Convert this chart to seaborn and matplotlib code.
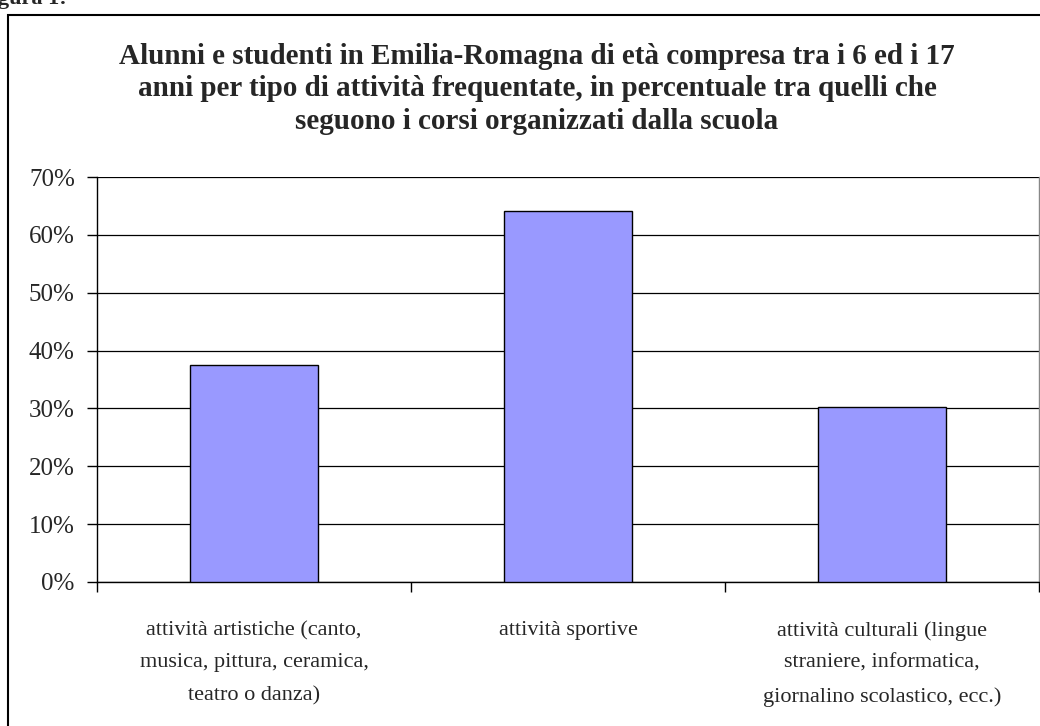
import matplotlib
matplotlib.use("Agg")
import matplotlib.pyplot as plt
import seaborn as sns
import pandas as pd
from matplotlib.patches import Rectangle
from matplotlib.ticker import FixedLocator, PercentFormatter

# --- dati ---
categorie = [
    "attività artistiche (canto,\nmusica, pittura, ceramica,\nteatro o danza)",
    "attività sportive",
    "attività culturali (lingue\nstraniere, informatica,\ngiornalino scolastico, ecc.)",
]
percentuali = [37.5, 64.1, 30.3]
tick_y = [0, 10, 20, 30, 40, 50, 60, 70]

titolo = ("Alunni e studenti in Emilia-Romagna di età compresa tra i 6 ed i 17\n"
          "anni per tipo di attività frequentate, in percentuale tra quelli che\n"
          "seguono i corsi organizzati dalla scuola")

df = pd.DataFrame({"categoria": categorie, "valore": percentuali})

sns.set_theme(style="white")
plt.rcParams["font.family"] = ["Liberation Serif", "DejaVu Serif"]

fig = plt.figure(figsize=(10.4, 7.26), dpi=100)
ax = fig.add_axes([97 / 1040, 1 - 582 / 726, 942 / 1040, (582 - 177) / 726])

sns.barplot(data=df, x="categoria", y="valore", color="#9999FF", saturation=1,
            width=0.41, edgecolor="black", linewidth=1.0, ax=ax, zorder=3)

ax.set_ylim(0, 70)
ax.set_xlim(-0.5, 2.5)
ax.yaxis.set_major_locator(FixedLocator(tick_y))
ax.yaxis.set_major_formatter(PercentFormatter(decimals=0))
ax.grid(axis="y", color="black", linewidth=0.9, zorder=0)
ax.set_axisbelow(True)

# etichette categorie su tick minori, tacche ai confini
ax.set_xticks([-0.5, 0.5, 1.5, 2.5])
ax.set_xticklabels(["", "", "", ""])
ax.set_xticks([0, 1, 2], minor=True)
ax.set_xticklabels(categorie, minor=True, fontsize=16, linespacing=1.95)
ax.tick_params(axis="x", which="major", direction="out", length=7, width=1,
               color="black", bottom=True)
ax.tick_params(axis="x", which="minor", length=0, pad=28, bottom=True)
ax.tick_params(axis="y", direction="out", length=7, width=1, color="black",
               left=True, labelsize=18, pad=9)

for s in ["left", "bottom"]:
    ax.spines[s].set_color("black")
    ax.spines[s].set_linewidth(1)
ax.spines["top"].set_visible(False)
ax.spines["right"].set_color("#888888")
ax.spines["right"].set_linewidth(1)
ax.set_xlabel("")
ax.set_ylabel("")

fig.text(537 / 1040, 1 - 89 / 726, titolo, ha="center", va="center",
         fontsize=21, fontweight="bold", linespacing=1.25)

# cornice del grafico e testo tagliato in alto
fig.patches.append(Rectangle((8 / 1040, -0.1), 1.2, 1.1 - 15 / 726,
                             transform=fig.transFigure, fill=False,
                             edgecolor="black", linewidth=1.5))
fig.text(-22 / 1040, 1 - 4 / 726, "Figura 1:", ha="left", va="baseline",
         fontsize=16, fontweight="bold")

fig.savefig("out.png", dpi=100, facecolor="white")
